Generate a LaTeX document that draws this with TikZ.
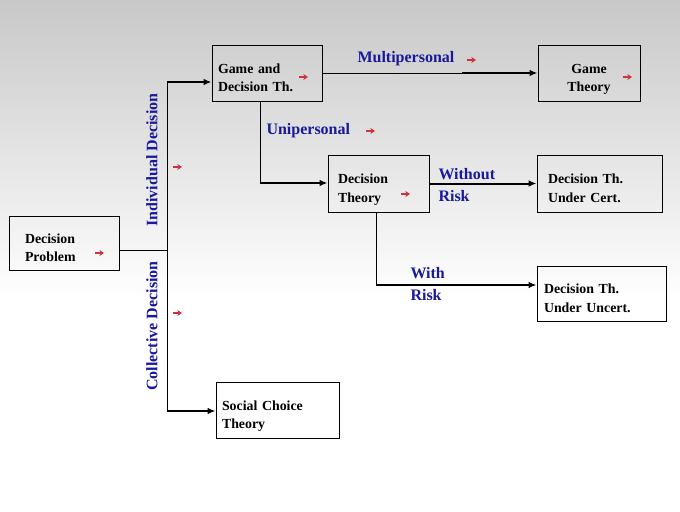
\documentclass[tikz,border=0pt]{standalone}
\usepackage{fontspec}
\setmainfont{Liberation Serif}
\usetikzlibrary{arrows.meta}
\definecolor{labelblue}{RGB}{25,25,155}
\definecolor{linkred}{RGB}{210,50,60}
\definecolor{bgtop}{RGB}{200,200,200}
\tikzset{every picture/.style={line width=0.75pt}}
\tikzset{
  box/.style={draw, rectangle, font=\fontsize{10.4}{13.9}\selectfont\bfseries, align=left, inner ysep=0pt, text height=16pt, text depth=16pt},
  conn/.style={line width=1.5pt, -{Latex[length=6pt,width=5pt]}},
  lbl/.style={text=labelblue, font=\fontsize{12}{16}\selectfont\bfseries, inner sep=0.75pt},
  linkarr/.style={draw=linkred, line width=1.3pt, -{Stealth[length=3.5pt,width=4.5pt]}}
}

\begin{document}
\begin{tikzpicture}[x=0.75pt,y=0.75pt,yscale=-1,xscale=1]
%Background
\shade [top color=bgtop, bottom color=white] (0,0) rectangle (680,300) ;
\fill [white] (0,300) rectangle (680,511) ;
\useasboundingbox (0,0) rectangle (680,511) ;

%Boxes
\node [box, text width=58.5pt, inner xsep=12pt, minimum height=40.5pt] (dp) at (64,243) {Decision\\Problem};
\node [box, text width=73.5pt, inner xsep=4.5pt, minimum height=42pt] (gdt) at (267,73) {Game and\\Decision Th.};
\node [box, text width=67.5pt, inner xsep=4.5pt, minimum height=42pt, align=center] (gt) at (589,73) {Game\\Theory};
\node [box, text width=60.75pt, inner xsep=7.5pt, minimum height=42.75pt] (dt) at (378.5,183.5) {Decision\\Theory};
\node [box, text width=77.25pt, inner xsep=8.25pt, minimum height=42.75pt] (dtuc) at (599.5,183.5) {Decision Th.\\Under Cert.};
\node [box, text width=86.25pt, inner xsep=5.25pt, minimum height=41.25pt] (dtuu) at (601.5,293.5) {Decision Th.\\Under Uncert.};
\node [box, text width=83.25pt, inner xsep=4.5pt, minimum height=42pt] (sc) at (277.5,410) {Social Choice\\Theory};

%Labels
\node [lbl, anchor=west] (multi) at (356,59) {Multipersonal};
\node [lbl, anchor=west] (uni) at (265,131) {Unipersonal};
\node [lbl, anchor=west, align=left] (without) at (437,185) {Without\\Risk};
\node [lbl, anchor=west, align=left] (with) at (409,284) {With\\Risk};
\node [lbl, rotate=90] (indiv) at (152,160) {Individual Decision};
\node [lbl, rotate=90] (coll) at (152,326) {Collective Decision};

%Bends
\coordinate (split) at (167,250) ;
\coordinate (top) at (167,82) ;
\coordinate (bot) at (167,411) ;
\coordinate (unibend) at (260,183) ;
\coordinate (riskbend) at (376,285) ;
\coordinate (multithick) at (462,73) ;

%Connectors
\draw (split -| dp.east) -- (split) ;
\draw (top) -- (bot) ;
\draw [conn] (top) -- (top -| gdt.west) ;
\draw [conn] (bot) -- (bot -| sc.west) ;
\draw (gdt.south -| unibend) -- (unibend) ;
\draw [conn] (unibend) -- (unibend -| dt.west) ;
\draw (gdt.east) -- (multithick) ;
\draw [conn] (multithick) -- (gt.west) ;
\draw [conn] (dt.east) -- (dtuc.west) ;
\draw (dt.south -| riskbend) -- (riskbend) ;
\draw [conn] (riskbend) -- (riskbend -| dtuu.west) ;

%Link arrows
\draw [linkarr] (95,253) -- (104,253) ;
\draw [linkarr] (299,77) -- (308,77) ;
\draw [linkarr] (173,167) -- (182,167) ;
\draw [linkarr] (173,313) -- (182,313) ;
\draw [linkarr] (467,60) -- (476,60) ;
\draw [linkarr] (366,131) -- (375,131) ;
\draw [linkarr] (401,194) -- (410,194) ;
\draw [linkarr] (623,77) -- (632,77) ;

\end{tikzpicture}
\end{document}
